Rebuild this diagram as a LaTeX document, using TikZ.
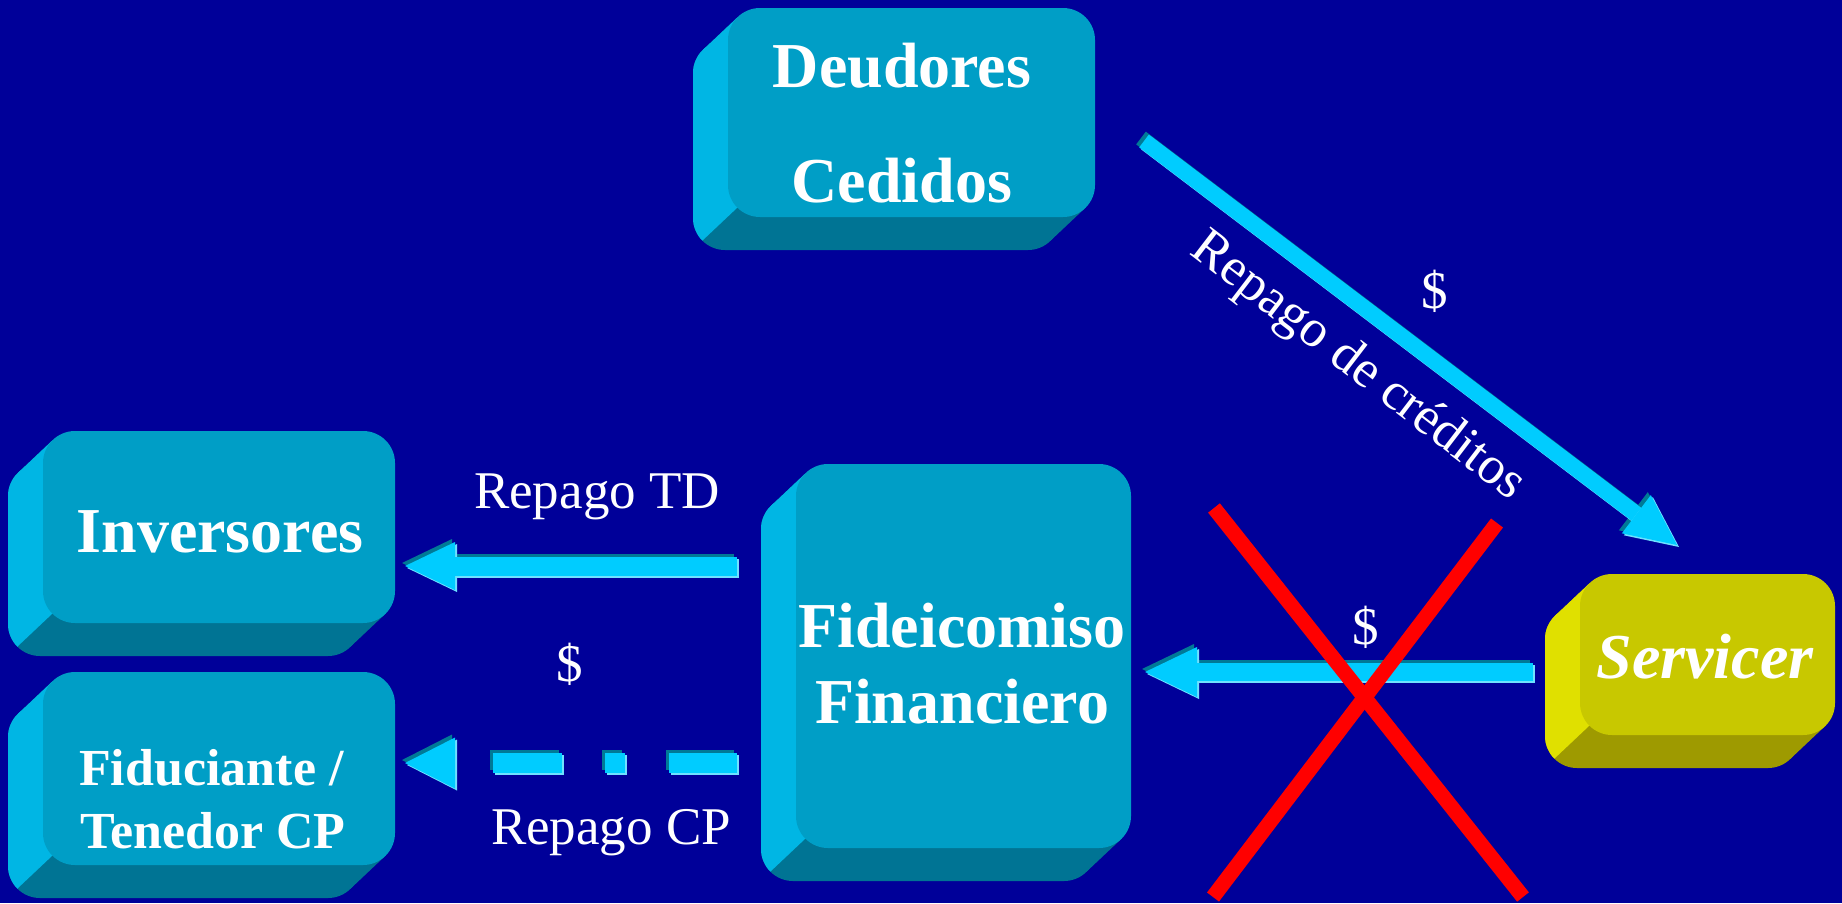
\documentclass[tikz,border=0pt]{standalone}
\usepackage{fontspec}
\setmainfont{Liberation Serif}
\usetikzlibrary{arrows.meta}
\definecolor{bg}{RGB}{0,0,153}
\definecolor{facec}{RGB}{0,158,198}
\definecolor{sidelight}{RGB}{0,182,228}
\definecolor{sidedark}{RGB}{0,116,148}
\definecolor{yface}{RGB}{200,200,0}
\definecolor{ylight}{RGB}{224,224,0}
\definecolor{ydark}{RGB}{158,154,0}
\definecolor{arrowc}{RGB}{0,204,255}
\definecolor{arrowsh}{RGB}{0,122,150}
\definecolor{arrowhl}{RGB}{110,225,255}
\definecolor{xred}{RGB}{255,0,0}

% extruded sides of a 3D box: #1 L, #2 T, #3 R, #4 B, #5 light colour, #6 dark colour
\newcommand{\boxsides}[6]{%
  \fill[#6,rounded corners=32pt] (#1-35,#2+33) rectangle (#3-35,#4+33);
  \fill[#6] (#1+9.4,#2+9.4) -- ++(-35,33) -- (#3-44.4,#4+23.6) -- (#3-9.4,#4-9.4) -- cycle;
  \begin{scope}
    \clip (#1+9.4,#4-9.4) -- ++(-105,99) -- ++(-300,0) -- (#1-300,#2-300) -- (#1+32,#2-300) -- (#1+32,#4-9.4) -- cycle;
    \fill[#5,rounded corners=32pt] (#1-35,#2+33) rectangle (#3-35,#4+33);
    \fill[#5] (#1+9.4,#2+9.4) -- ++(-35,33) -- (#3-44.4,#4+23.6) -- (#3-9.4,#4-9.4) -- cycle;
  \end{scope}}

% block arrow with shadow and highlight: #1 options, #2 start, #3 end
\newcommand{\blockarrow}[3]{%
  \begin{scope}[transform canvas={xshift=-3pt,yshift=3pt}]
    \draw[#1,arrowsh] (#2) -- (#3);
  \end{scope}
  \begin{scope}[transform canvas={xshift=2pt,yshift=-2pt}]
    \draw[#1,arrowhl] (#2) -- (#3);
  \end{scope}
  \draw[#1,arrowc] (#2) -- (#3);}

\tikzset{
  facebox/.style={rectangle, fill=#1, rounded corners=32pt, inner sep=0pt, draw=none},
  bigtext/.style={text=white, inner sep=0pt, anchor=base, font=\fontsize{64}{64}\selectfont\bfseries},
  midtext/.style={text=white, inner sep=0pt, anchor=base west, font=\fontsize{52}{52}\selectfont\bfseries},
  lbl/.style={text=white, inner sep=0pt, font=\fontsize{53}{53}\selectfont},
  redx/.style={draw=xred, line width=15pt},
}

\begin{document}
\begin{tikzpicture}[x=1pt,y=-1pt]
\fill[bg] (0,0) rectangle (1842,903);
\useasboundingbox (0,0) rectangle (1842,903);

% ---- box sides ----
\boxsides{728}{8}{1095}{217}{sidelight}{sidedark}
\boxsides{43}{431}{395}{623}{sidelight}{sidedark}
\boxsides{43}{672}{395}{865}{sidelight}{sidedark}
\boxsides{796}{464}{1131}{848}{sidelight}{sidedark}
\boxsides{1580}{574}{1835}{735}{ylight}{ydark}

% ---- front faces ----
\node[facebox=facec, minimum width=367pt, minimum height=209pt] (deu) at (911.5,112.5) {};
\node[facebox=facec, minimum width=352pt, minimum height=192pt] (inv) at (219,527) {};
\node[facebox=facec, minimum width=352pt, minimum height=193pt] (fidu) at (219,768.5) {};
\node[facebox=facec, minimum width=335pt, minimum height=384pt] (fid) at (963.5,656) {};
\node[facebox=yface, minimum width=255pt, minimum height=161pt] (serv) at (1707.5,654.5) {};

% ---- box texts ----
\node[bigtext] (deuA) at (902,87) {Deudores};
\node[bigtext] (deuB) at (902,202) {Cedidos};
\node[bigtext] (invA) at (220,552) {Inversores};
\node[midtext] (fiduA) at (79,785) {Fiduciante /};
\node[midtext] (fiduB) at (80,848) {Tenedor CP};
\node[bigtext] (fidA) at (962,647) {Fideicomiso};
\node[bigtext] (fidB) at (962,723) {Financiero};
\node[bigtext, font=\fontsize{64}{64}\selectfont\bfseries\itshape] (servA) at (1705,678) {Servicer};

% ---- arrow end points ----
\coordinate (dgS) at (1144,141);
\coordinate (dgE) at (1677,545);
\coordinate (tdS) at (737,566);
\coordinate (tdE) at (405,566);
\coordinate (cpS) at (737,763);
\coordinate (cpE) at (405,763);
\coordinate (svS) at (1533,672);
\coordinate (svE) at (1145,672);

\blockarrow{line width=16pt,-{Triangle[length=51pt,width=48pt,line width=0pt]}}{dgS}{dgE}
\blockarrow{line width=19pt,-{Triangle[length=50pt,width=48pt,line width=0pt]}}{tdS}{tdE}
\blockarrow{line width=20pt,dash pattern=on 68pt off 44pt on 20pt off 43pt on 69pt off 200pt,-{Triangle[length=50pt,width=51pt,line width=0pt]}}{cpS}{cpE}
\blockarrow{line width=18pt,-{Triangle[length=52pt,width=50pt,line width=0pt]}}{svS}{svE}

% ---- red cross ----
\coordinate (xa1) at (1214,508);
\coordinate (xa2) at (1523,897);
\coordinate (xb1) at (1497,523);
\coordinate (xb2) at (1213,897);
\draw[redx] (xa1) -- (xa2);
\draw[redx] (xb1) -- (xb2);

% ---- labels ----
\node[lbl, anchor=base] (lTD) at (597,508) {Repago TD};
\node[lbl, anchor=base] (lCP) at (611,844) {Repago CP};
\node[lbl] (dol1) at (570,664) {\$};
\node[lbl] (dol2) at (1366,627) {\$};
\node[lbl] (dol3) at (1435,291) {\$};
\node[lbl, rotate=-37.5] (lRC) at (1357,367) {Repago de créditos};
\end{tikzpicture}
\end{document}
